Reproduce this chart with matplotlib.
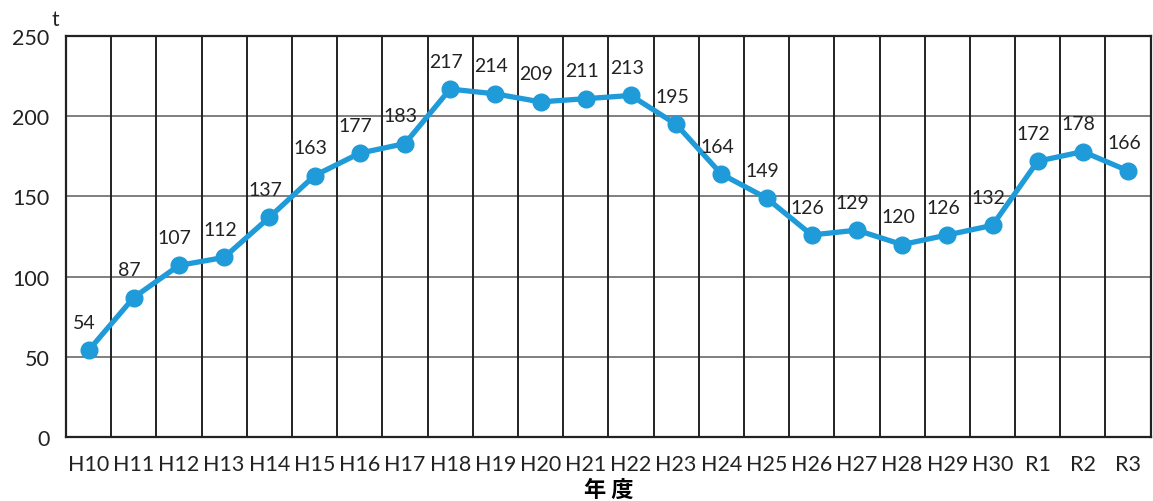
import matplotlib.pyplot as plt
import numpy as np

years = ["H10", "H11", "H12", "H13", "H14", "H15", "H16", "H17", "H18", "H19",
         "H20", "H21", "H22", "H23", "H24", "H25", "H26", "H27", "H28", "H29",
         "H30", "R1", "R2", "R3"]
values = [54, 87, 107, 112, 137, 163, 177, 183, 217, 214, 209, 211, 213, 195,
          164, 149, 126, 129, 120, 126, 132, 172, 178, 166]

plt.rcParams['font.family'] = ['Lato', 'Noto Sans CJK JP', 'DejaVu Sans']

fig = plt.figure(figsize=(11.53, 5.02), dpi=100)
ax = fig.add_axes([0.0572, 0.1275, 0.9408, 0.7985])

x = np.arange(len(years))
line_color = "#1E9BD8"
ax.plot(x, values, color=line_color, linewidth=3.8, marker="o", markersize=12,
        solid_capstyle="round", zorder=3)

for xi, v in zip(x, values):
    ax.annotate(str(v), (xi, v), xytext=(-3, 14), textcoords="offset points",
                ha="center", va="bottom", fontsize=14, color="#222222")

ax.set_xlim(-0.5, len(years) - 0.5)
ax.set_ylim(0, 250)
ax.set_yticks([0, 50, 100, 150, 200, 250])
ax.set_xticks(x)
ax.set_xticklabels(years)
ax.tick_params(axis="both", length=0, labelsize=15.5, colors="#222222")
ax.tick_params(axis="y", pad=12)
ax.tick_params(axis="x", pad=12)

# horizontal grid (grey) and category boundaries (black)
ax.yaxis.grid(True, color="#6a6a6a", linewidth=1.2)
for b in np.arange(0.5, len(years) - 0.5, 1):
    ax.axvline(b, color="#222222", linewidth=1.4, zorder=1)
ax.set_axisbelow(True)

for side in ["top", "left", "bottom", "right"]:
    ax.spines[side].set_color("#222222")
    ax.spines[side].set_linewidth(1.6)

ax.set_xlabel("年 度", fontsize=16, fontweight="bold", labelpad=3,
              family=["Noto Sans CJK JP", "DejaVu Sans"])
fig.text(0.045, 0.948, "t", fontsize=15, color="#222222")

fig.savefig("out.png", dpi=100)
